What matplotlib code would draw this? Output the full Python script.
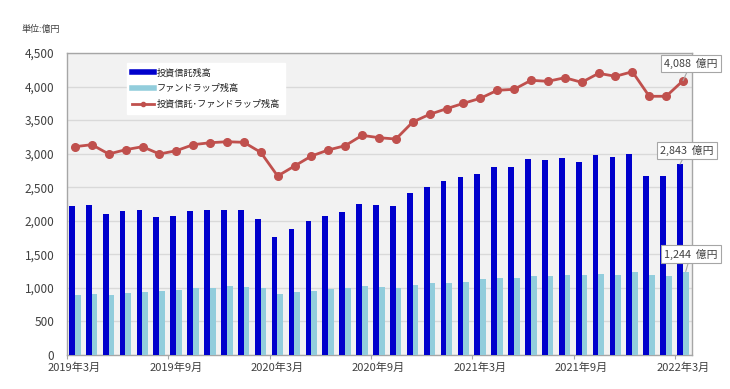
import matplotlib
matplotlib.use("Agg")
import matplotlib.pyplot as plt
from matplotlib.lines import Line2D
import numpy as np

plt.rcParams['font.family'] = ['Noto Sans CJK JP', 'DejaVu Sans']

# ---- data (億円) ----
months = ["2019年3月", "2019年4月", "2019年5月", "2019年6月", "2019年7月", "2019年8月",
          "2019年9月", "2019年10月", "2019年11月", "2019年12月", "2020年1月", "2020年2月",
          "2020年3月", "2020年4月", "2020年5月", "2020年6月", "2020年7月", "2020年8月",
          "2020年9月", "2020年10月", "2020年11月", "2020年12月", "2021年1月", "2021年2月",
          "2021年3月", "2021年4月", "2021年5月", "2021年6月", "2021年7月", "2021年8月",
          "2021年9月", "2021年10月", "2021年11月", "2021年12月", "2022年1月", "2022年2月",
          "2022年3月"]
toushin = [2215, 2230, 2105, 2141, 2156, 2051, 2071, 2146, 2160, 2160, 2156, 2026,
           1763, 1882, 2001, 2071, 2131, 2250, 2232, 2225, 2414, 2508, 2597, 2647,
           2697, 2801, 2801, 2920, 2905, 2935, 2871, 2985, 2950, 2990, 2667, 2667,
           2843]
fundwrap = [889, 904, 894, 929, 944, 954, 974, 994, 998, 1023, 1013, 998,
            904, 939, 958, 988, 994, 1023, 1008, 998, 1043, 1073, 1077, 1092,
            1127, 1142, 1147, 1172, 1172, 1192, 1192, 1212, 1197, 1232, 1192, 1182,
            1244]
total = [3104, 3134, 2995, 3059, 3104, 2995, 3044, 3134, 3163, 3178, 3169, 3020,
         2667, 2816, 2965, 3055, 3119, 3273, 3238, 3218, 3472, 3586, 3670, 3750,
         3825, 3944, 3959, 4093, 4078, 4132, 4063, 4197, 4153, 4221, 3855, 3855,
         4088]
tick_labels = ["2019年3月", "2019年9月", "2020年3月", "2020年9月", "2021年3月", "2021年9月", "2022年3月"]
series_names = ["投資信託残高", "ファンドラップ残高", "投資信託･ファンドラップ残高"]

c_dark = '#0000cc'
c_light = '#92cddc'
c_red = '#c0504d'
c_text = '#404040'
c_grid = '#d9d9d9'
c_spine = '#a6a6a6'

fig = plt.figure(figsize=(7.30, 3.89), dpi=100)
ax = fig.add_axes([67/730, 34/389, 625/730, 302/389])
ax.set_facecolor('#f2f2f2')

n = len(months)
x = np.arange(n)
bw = 0.34
ax.bar(x + 0.12, toushin, width=bw, align='edge', color=c_dark, zorder=3, linewidth=0)
ax.bar(x + 0.12 + bw, fundwrap, width=bw, align='edge', color=c_light, zorder=3, linewidth=0)
ax.plot(x + 0.47, total, color=c_red, lw=2, marker='o', ms=5.5, zorder=4)

ax.set_xlim(0, n)
ax.set_ylim(0, 4500)
ax.set_yticks(np.arange(0, 4501, 500))
ax.set_yticklabels([f"{v:,}" for v in range(0, 4501, 500)])
ax.yaxis.grid(True, color=c_grid, lw=1, zorder=0)
ax.set_axisbelow(True)

ax.set_xticks(np.arange(0, n, 6))
ax.set_xticklabels([])
ax.set_xticks(np.arange(0, n, 6) + 0.45, minor=True)
ax.set_xticklabels(tick_labels, minor=True)
ax.tick_params(axis='x', which='major', length=3, color=c_spine, direction='out')
ax.tick_params(axis='x', which='minor', length=0, pad=5.5, labelsize=8, labelcolor=c_text)
ax.tick_params(axis='y', length=0, pad=9, labelsize=8.5, labelcolor=c_text)
for lbl in ax.get_yticklabels():
    lbl.set_va('center_baseline')

for s in ax.spines.values():
    s.set_color(c_spine)
    s.set_linewidth(1)

fig.text(22/730, 1 - 29/389, "単位:億円", fontsize=6.5, color=c_text, va='center', ha='left')

handles = [Line2D([], [], color=c_dark, lw=4),
           Line2D([], [], color=c_light, lw=4),
           Line2D([], [], color=c_red, lw=2, marker='o', ms=3)]
leg = ax.legend(handles, series_names, loc='upper left', bbox_to_anchor=(0.096, 0.966),
                fontsize=6.6, frameon=True, fancybox=False, framealpha=1,
                edgecolor='white', facecolor='white', handlelength=2.4,
                handletextpad=0.3, labelspacing=0.7, borderpad=0.55, borderaxespad=0)
for t in leg.get_texts():
    t.set_color('#202020')
leg.set_zorder(6)

bbox = dict(boxstyle='square,pad=0.28', fc='white', ec=c_spine, lw=0.8)
arrow = dict(arrowstyle='-', color=c_spine, lw=0.8, shrinkA=0, shrinkB=0)
last = n - 1
ax.annotate(f"{total[last]:,}  億円", xy=(last + 0.47, total[last]), xytext=(8, 12),
            textcoords='offset pixels', ha='center', va='bottom', fontsize=7.8,
            color=c_text, bbox=bbox, arrowprops=arrow, zorder=7, annotation_clip=False)
ax.annotate(f"{toushin[last]:,}  億円", xy=(last + 0.12 + bw / 2, toushin[last]), xytext=(7, 8),
            textcoords='offset pixels', ha='center', va='bottom', fontsize=7.8,
            color=c_text, bbox=bbox, arrowprops=arrow, zorder=7, annotation_clip=False)
ax.annotate(f"{fundwrap[last]:,}  億円", xy=(last + 0.12 + 1.5 * bw, fundwrap[last]), xytext=(5, 12),
            textcoords='offset pixels', ha='center', va='bottom', fontsize=7.8,
            color=c_text, bbox=bbox, arrowprops=arrow, zorder=7, annotation_clip=False)

fig.savefig("out.png", dpi=100)
